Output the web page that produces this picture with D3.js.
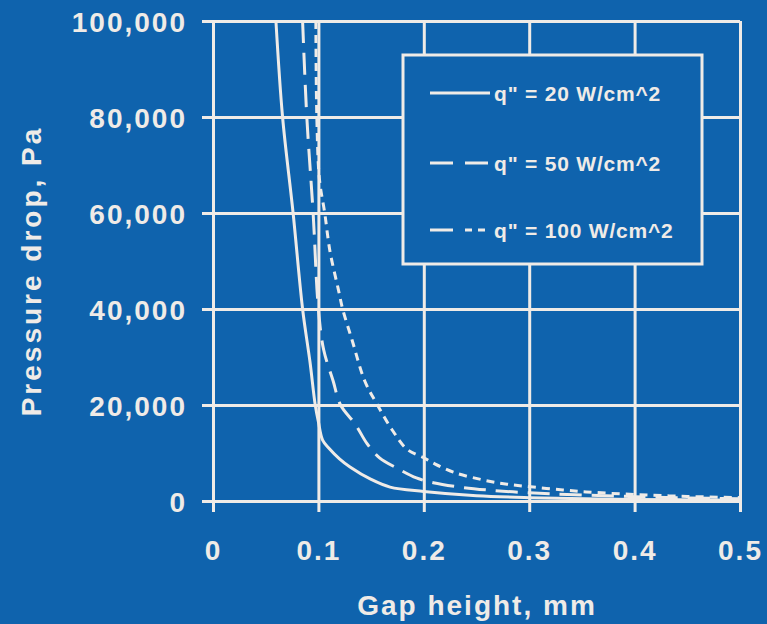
<!DOCTYPE html>
<html>
<head>
<meta charset="utf-8">
<script src="https://cdn.jsdelivr.net/npm/d3@7"></script>
<style>
  html, body { margin: 0; padding: 0; background: #0f63ad; }
  svg { display: block; }
  text { font-family: "Liberation Sans", Arial, sans-serif; font-weight: bold; fill: #efebe7; }
</style>
</head>
<body>
<svg id="chart" width="767" height="624"></svg>
<script>
// gap height (mm) and pressure drop (Pa)
const gap20 = [0.0597, 0.066, 0.076, 0.085, 0.092, 0.097, 0.100, 0.104, 0.110, 0.120, 0.130, 0.150, 0.168, 0.200, 0.250, 0.300, 0.400, 0.500];
const dp20  = [100000, 80000, 60000, 40000, 29000, 20000, 16500, 12700, 11000, 8800, 7100, 4500, 2900, 2000, 1100, 700, 330, 160];

const gap50 = [0.085, 0.089, 0.095, 0.100, 0.105, 0.114, 0.121, 0.135, 0.146, 0.158, 0.175, 0.193, 0.209, 0.234, 0.260, 0.300, 0.400, 0.500];
const dp50  = [100000, 80000, 60000, 40000, 31500, 25000, 20000, 16000, 12000, 9000, 6800, 4800, 3800, 2900, 2300, 1700, 900, 450];

const gap100 = [0.0976, 0.0985, 0.101, 0.106, 0.111, 0.119, 0.123, 0.132, 0.144, 0.156, 0.170, 0.184, 0.200, 0.209, 0.228, 0.256, 0.279, 0.304, 0.332, 0.354, 0.400, 0.450, 0.500];
const dp100  = [100000, 80000, 67000, 60000, 52000, 44000, 40000, 33500, 25000, 20000, 14800, 10800, 9000, 7900, 6000, 4400, 3500, 2900, 2300, 1900, 1350, 950, 700];

const seriesNames = ['q" = 20 W/cm^2', 'q" = 50 W/cm^2', 'q" = 100 W/cm^2'];
const xTicks = [0, 0.1, 0.2, 0.3, 0.4, 0.5];
const yTicks = [0, 20000, 40000, 60000, 80000, 100000];

const svg = d3.select("#chart");
const plotLeft = 213, plotRight = 740, plotTop = 21, plotBottom = 501;
const ink = "#efebe7";

const x = d3.scaleLinear().domain([0, 0.5]).range([plotLeft, plotRight]);
const y = d3.scaleLinear().domain([0, 100000]).range([plotBottom, plotTop]);

// gridlines + outer ticks come from the axes themselves
const yAxis = svg.append("g")
    .attr("transform", "translate(" + plotRight + ",0)")
    .call(d3.axisLeft(y).tickValues(yTicks).tickSize(plotRight - plotLeft + 11).tickPadding(15).tickFormat(d3.format(",")));
const xAxis = svg.append("g")
    .attr("transform", "translate(0," + plotTop + ")")
    .call(d3.axisBottom(x).tickValues(xTicks).tickSize(plotBottom - plotTop + 11).tickPadding(28).tickFormat(d3.format("")));

[yAxis, xAxis].forEach(a => {
    a.select(".domain").remove();
    a.selectAll(".tick line").attr("stroke", ink).attr("stroke-width", 3);
    a.selectAll(".tick text")
        .attr("fill", ink)
        .style("font-size", "28px")
        .style("letter-spacing", "2px")
        .style("font-family", "Liberation Sans, Arial, sans-serif")
        .style("font-weight", "bold");
});
yAxis.selectAll(".tick text").attr("dy", "0.36em");

// curves
const line = d3.line()
    .x(d => x(d[0]))
    .y(d => y(d[1]))
    .curve(d3.curveCatmullRom.alpha(0.5));

const series = [
    {pts: d3.zip(gap20, dp20), dash: null, legendDash: null},
    {pts: d3.zip(gap50, dp50), dash: "22,10", legendDash: "23,12"},
    {pts: d3.zip(gap100, dp100), dash: "8,6", legendDash: "23,12,7,6,7,6"}
];

svg.append("g").selectAll("path")
    .data(series)
    .enter().append("path")
    .attr("d", d => line(d.pts))
    .attr("fill", "none")
    .attr("stroke", ink)
    .attr("stroke-width", 3)
    .attr("stroke-dasharray", d => d.dash);

// legend box
const lg = svg.append("g");
lg.append("rect")
    .attr("x", 403).attr("y", 55)
    .attr("width", 299).attr("height", 209)
    .attr("fill", "#0f63ad")
    .attr("stroke", ink)
    .attr("stroke-width", 3);

const rowsY = [93, 163, 230];
series.forEach((s, i) => {
    lg.append("line")
        .attr("x1", 430).attr("x2", 490)
        .attr("y1", rowsY[i]).attr("y2", rowsY[i])
        .attr("stroke", ink)
        .attr("stroke-width", 3)
        .attr("stroke-dasharray", s.legendDash);
    lg.append("text")
        .attr("x", 494).attr("y", rowsY[i])
        .attr("dy", "0.36em")
        .style("font-size", "21px")
        .style("letter-spacing", "0.8px")
        .text(seriesNames[i]);
});

// axis titles
svg.append("text")
    .attr("x", 477).attr("y", 615)
    .attr("text-anchor", "middle")
    .style("font-size", "28px")
    .style("letter-spacing", "2px")
    .text("Gap height, mm");

svg.append("text")
    .attr("transform", "translate(41,271) rotate(-90)")
    .attr("text-anchor", "middle")
    .style("font-size", "28px")
    .style("letter-spacing", "3px")
    .text("Pressure drop, Pa");
</script>
</body>
</html>
